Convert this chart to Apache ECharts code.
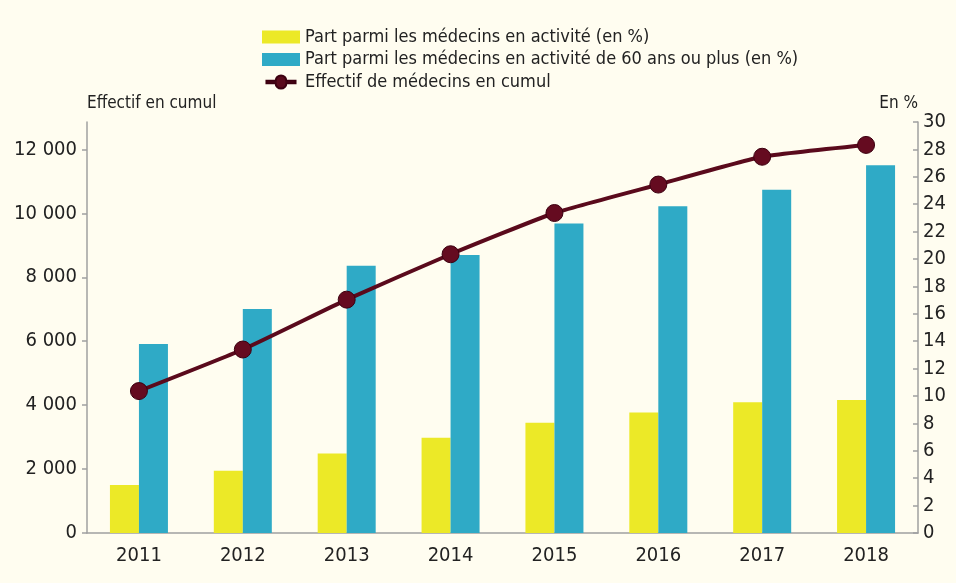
<!DOCTYPE html>
<html>
<head>
<meta charset="utf-8">
<script src="https://cdn.jsdelivr.net/npm/echarts@6/dist/echarts.min.js"></script>
<style>
	html, body { margin: 0; padding: 0; background: #fffdf0; }
	#chart { width: 956px; height: 583px; }
</style>
</head>
<body>
<div id="chart"></div>
<script>
// données
var annees = ['2011', '2012', '2013', '2014', '2015', '2016', '2017', '2018'];
var partActivite = [3.5, 4.55, 5.8, 6.95, 8.05, 8.8, 9.55, 9.7];
var part60ans = [13.8, 16.35, 19.5, 20.3, 22.6, 23.85, 25.05, 26.85];
var effectifCumul = [4440, 5740, 7300, 8720, 10010, 10900, 11770, 12140];
var ticksGauche = [0, 2000, 4000, 6000, 8000, 10000, 12000];

var police = "'DejaVu Sans Condensed', 'Liberation Sans', sans-serif";
var gris = '#a0a0a0';
// pictogramme de légende : trait épais + rond
var iconeLigne = 'path://M0,5.5L12,5.5A7,7,0,0,1,26,5.5L38,5.5L38,8.5L26,8.5A7,7,0,0,1,12,8.5L0,8.5Z';

var myChart = echarts.init(document.getElementById('chart'));
var option = {
	backgroundColor: '#fffdf0',
	textStyle: { fontFamily: police, color: '#222' },
	animation: false,
	legend: {
		orient: 'vertical',
		left: 257,
		top: 23,
		itemWidth: 38,
		itemHeight: 13,
		itemGap: 4.5,
		textStyle: { fontFamily: police, fontSize: 18, color: '#222', lineHeight: 18 },
		data: [
			{ name: 'Part parmi les médecins en activité (en %)', icon: 'rect' },
			{ name: 'Part parmi les médecins en activité de 60 ans ou plus (en %)', icon: 'rect' },
			{ name: 'Effectif de médecins en cumul', icon: iconeLigne, itemStyle: { color: '#5a0a1c' } }
		]
	},
	grid: { left: 87, right: 38, top: 122, bottom: 50 },
	xAxis: {
		type: 'category',
		data: annees,
		axisLine: { lineStyle: { color: gris, width: 1.5 } },
		axisTick: { length: 18, lineStyle: { color: gris, width: 1.5 } },
		axisLabel: { fontFamily: police, fontSize: 20, color: '#222', margin: 13 }
	},
	yAxis: [
		{
			type: 'value',
			name: 'Effectif en cumul',
			nameLocation: 'end',
			nameGap: 18,
			nameTextStyle: { fontFamily: police, fontSize: 17, color: '#222', align: 'left', verticalAlign: 'middle' },
			min: 0,
			max: 12000 * 30 / 28,
			interval: 2000,
			axisLine: { show: true, lineStyle: { color: gris, width: 1.5 } },
			axisTick: { show: true, length: 5, customValues: ticksGauche, lineStyle: { color: gris, width: 1.5 } },
			splitLine: { show: false },
			axisLabel: {
				fontFamily: police, fontSize: 20, color: '#222', margin: 10,
				customValues: ticksGauche,
				formatter: function(v) {
					return String(v).replace(/\B(?=(\d{3})+(?!\d))/g, ' ');
				}
			}
		},
		{
			type: 'value',
			name: 'En %',
			nameLocation: 'end',
			nameGap: 18,
			nameTextStyle: { fontFamily: police, fontSize: 17, color: '#222', align: 'right', verticalAlign: 'middle' },
			min: 0,
			max: 30,
			interval: 2,
			axisLine: { show: true, lineStyle: { color: gris, width: 1.5 } },
			axisTick: { show: true, inside: true, length: 5, lineStyle: { color: gris, width: 1.5 } },
			splitLine: { show: false },
			axisLabel: { fontFamily: police, fontSize: 20, color: '#222', margin: 5 }
		}
	],
	series: [
		{
			name: 'Part parmi les médecins en activité (en %)',
			type: 'bar',
			yAxisIndex: 1,
			data: partActivite,
			barWidth: 29,
			barGap: '0%',
			itemStyle: { color: '#ece927' }
		},
		{
			name: 'Part parmi les médecins en activité de 60 ans ou plus (en %)',
			type: 'bar',
			yAxisIndex: 1,
			data: part60ans,
			barWidth: 29,
			barGap: '0%',
			itemStyle: { color: '#2faac6' }
		},
		{
			name: 'Effectif de médecins en cumul',
			type: 'line',
			yAxisIndex: 0,
			data: effectifCumul,
			smooth: 0.15,
			symbol: 'circle',
			symbolSize: 17,
			z: 5,
			lineStyle: { color: '#5a0a1c', width: 4 },
			itemStyle: { color: '#650b20', borderColor: '#3c0010', borderWidth: 1 }
		}
	]
};
myChart.setOption(option);
</script>
</body>
</html>
